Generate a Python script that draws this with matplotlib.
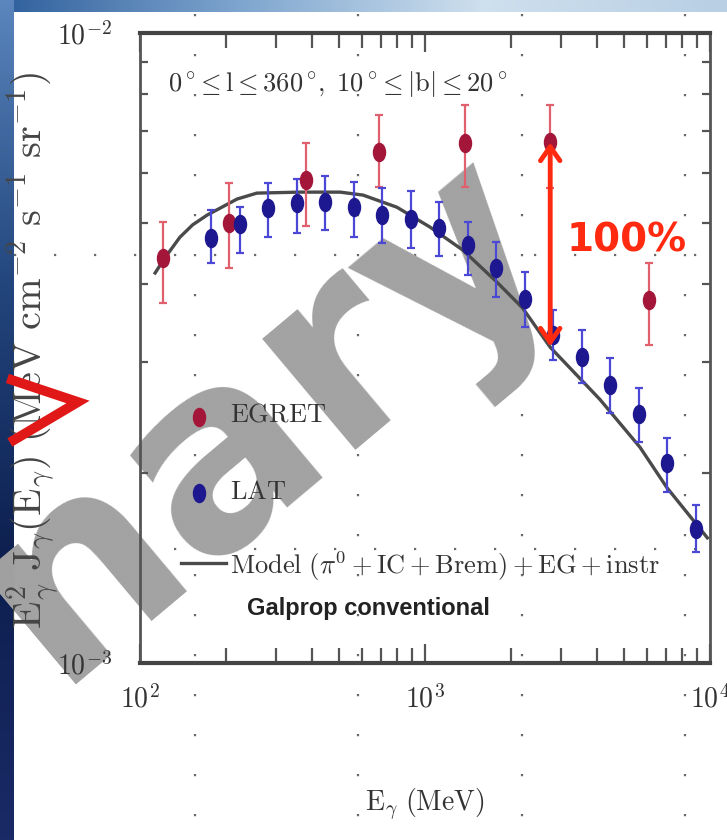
import numpy as np
import matplotlib.pyplot as plt
from matplotlib.path import Path
from matplotlib.lines import Line2D
from matplotlib.colors import LinearSegmentedColormap
from matplotlib.ticker import NullFormatter, FuncFormatter

plt.rcParams['mathtext.fontset'] = 'cm'

# EGRET points (E in MeV, E^2 J in MeV cm^-2 s^-1 sr^-1)
egret_e = [120, 205, 383, 690, 1380, 2740, 6100]
egret_f = [4.39e-3, 4.99e-3, 5.84e-3, 6.47e-3, 6.69e-3, 6.71e-3, 3.77e-3]
egret_hi = [5.01e-3, 5.78e-3, 6.69e-3, 7.41e-3, 7.69e-3, 7.69e-3, 4.31e-3]
egret_lo = [3.73e-3, 4.24e-3, 4.94e-3, 5.70e-3, 5.70e-3, 5.68e-3, 3.20e-3]

# LAT points
lat_e = [178, 224, 282, 355, 447, 562, 708, 891, 1122, 1413, 1778, 2239,
         2818, 3548, 4467, 5623, 7079, 8913]
lat_f = [4.73e-3, 4.98e-3, 5.27e-3, 5.37e-3, 5.39e-3, 5.29e-3, 5.14e-3, 5.07e-3,
         4.90e-3, 4.61e-3, 4.24e-3, 3.78e-3, 3.32e-3, 3.06e-3, 2.76e-3, 2.48e-3,
         2.08e-3, 1.63e-3]
lat_hi = [5.24e-3, 5.29e-3, 5.78e-3, 5.86e-3, 5.93e-3, 5.80e-3, 5.68e-3, 5.61e-3,
          5.39e-3, 5.01e-3, 4.66e-3, 4.17e-3, 3.63e-3, 3.38e-3, 3.05e-3, 2.73e-3,
          2.28e-3, 1.78e-3]
lat_lo = [4.31e-3, 4.47e-3, 4.74e-3, 4.81e-3, 4.87e-3, 4.74e-3, 4.64e-3, 4.56e-3,
          4.43e-3, 4.13e-3, 3.81e-3, 3.41e-3, 3.03e-3, 2.78e-3, 2.49e-3, 2.24e-3,
          1.87e-3, 1.50e-3]

# Galprop conventional model
model_e = [113, 122, 138, 153, 172, 219, 257, 364, 504, 606, 797, 1041, 1360, 1791,
           2200, 2752, 4110, 5680, 7050, 9790]
model_f = [4.16e-3, 4.39e-3, 4.74e-3, 4.96e-3, 5.14e-3, 5.45e-3, 5.57e-3, 5.59e-3,
           5.59e-3, 5.53e-3, 5.29e-3, 4.92e-3, 4.52e-3, 4.02e-3, 3.66e-3, 3.17e-3,
           2.62e-3, 2.20e-3, 1.90e-3, 1.58e-3]

# arrow showing the 100% difference
arrow_e = 2750
arrow_top, arrow_bottom = 6.7e-3, 3.18e-3

W, H = 727, 840
fig = plt.figure(figsize=(W / 100, H / 100), dpi=100)
fig.patch.set_facecolor('white')


def fx(px):
    return px / W


def fy(py):
    return 1 - py / H


# slide background: blue strips, dotted grid, watermark
bg = fig.add_axes([0, 0, 1, 1], zorder=-10)
top_cmap = LinearSegmentedColormap.from_list('top', ['#2f5f9c', '#7fa6cf', '#cfe0ee', '#b8cfe4'])
left_cmap = LinearSegmentedColormap.from_list('left', ['#5a86bd', '#23467e', '#0d1f4f', '#1a2a66'])
bg.imshow(np.linspace(0, 1, 256).reshape(1, -1), extent=(0, W, 12, 0), cmap=top_cmap, aspect='auto')
bg.imshow(np.linspace(0, 1, 256).reshape(-1, 1), extent=(0, 14, H, 0), cmap=left_cmap, aspect='auto')
for gx in [195, 358, 522, 685]:
    bg.plot([gx, gx], [14, H], color='#444444', lw=1.6, ls=(0, (1, 17)), alpha=0.8)
for gy in [255, 549]:
    bg.plot([14, W], [gy, gy], color='#444444', lw=1.6, ls=(0, (1, 17)), alpha=0.8)
bg.text(265, 415, 'nary', fontsize=190, rotation=40, color='#a2a2a2',
        family=['Liberation Sans Narrow', 'DejaVu Sans'], weight='bold',
        ha='center', va='center')
bg.set_xlim(0, W)
bg.set_ylim(H, 0)
bg.axis('off')

ax = fig.add_axes([fx(140), fy(663), fx(710) - fx(140), fy(33) - fy(663)])
ax.set_facecolor('none')
ax.set_xscale('log')
ax.set_yscale('log')

circle = Path.unit_circle()
ellipse = Path(circle.vertices * np.array([1.0, 1.5]), circle.codes)

ax.plot(model_e, model_f, color='#4a4a4a', lw=2.4, zorder=2)

eb = ax.errorbar(egret_e, egret_f,
                 yerr=[np.subtract(egret_f, egret_lo), np.subtract(egret_hi, egret_f)],
                 fmt='none', ecolor='#e0606e', elinewidth=1.6, capsize=3, capthick=1.6, zorder=3)
for c in eb[1]:
    c.set_color('#808080')
ax.plot(egret_e, egret_f, ls='none', marker=ellipse, ms=13, color='#a3163a', zorder=4)

lb = ax.errorbar(lat_e, lat_f,
                 yerr=[np.subtract(lat_f, lat_lo), np.subtract(lat_hi, lat_f)],
                 fmt='none', ecolor='#4b48d6', elinewidth=1.6, capsize=3, capthick=1.6, zorder=3)
for c in lb[1]:
    c.set_color('#707070')
ax.plot(lat_e, lat_f, ls='none', marker=ellipse, ms=13, color='#1d1790', zorder=4)

ax.set_xlim(100, 1e4)
ax.set_ylim(1e-3, 1e-2)

pow_fmt = FuncFormatter(lambda v, p: r'$10^{%d}$' % round(np.log10(v)))
ax.xaxis.set_major_formatter(pow_fmt)
ax.yaxis.set_major_formatter(pow_fmt)
ax.xaxis.set_minor_formatter(NullFormatter())
ax.yaxis.set_minor_formatter(NullFormatter())
ax.tick_params(which='both', direction='in', top=True, right=True, colors='#555555')
ax.tick_params(axis='x', which='minor', length=11, width=1.6)
ax.tick_params(axis='y', which='minor', length=6, width=1.6)
ax.tick_params(axis='x', which='major', length=14, width=1.6, pad=16, labelsize=20,
               labelcolor='#333333')
ax.tick_params(axis='y', which='major', length=8, width=1.6, pad=20, labelsize=20,
               labelcolor='#333333')
for side in ['top', 'bottom']:
    ax.spines[side].set_linewidth(3)
    ax.spines[side].set_color('#444444')
for side in ['left', 'right']:
    ax.spines[side].set_linewidth(2)
    ax.spines[side].set_color('#555555')

ax.set_xlabel(r'$\mathrm{E}_\gamma\ \mathrm{(MeV)}$', fontsize=20, color='#333333', labelpad=52)
fig.text(fx(33), fy(350),
         r'$\mathrm{E}_\gamma^2\ \mathrm{J}_\gamma(\mathrm{E}_\gamma)\ \mathrm{(MeV\ cm^{-2}\ s^{-1}\ sr^{-1})}$',
         rotation=90, fontsize=29, color='#454545', ha='center', va='center')

ax.text(fx(168), fy(84), r'$0^\circ\!\leq \mathrm{l} \leq 360^\circ\!,\ 10^\circ\!\leq |\mathrm{b}| \leq 20^\circ$',
        transform=fig.transFigure, fontsize=19, color='#333333', ha='left', va='center')

# legend
fig.add_artist(Line2D([fx(199)], [fy(417)], ls='none', marker=ellipse, ms=13, color='#a3163a'))
fig.add_artist(Line2D([fx(199)], [fy(493)], ls='none', marker=ellipse, ms=13, color='#1d1790'))
fig.add_artist(Line2D([fx(181), fx(226)], [fy(563), fy(563)], color='#4a4a4a', lw=2.4))
fig.text(fx(230), fy(415), r'$\mathrm{EGRET}$', fontsize=19, color='#333333', va='center')
fig.text(fx(230), fy(492), r'$\mathrm{LAT}$', fontsize=19, color='#333333', va='center')
fig.text(fx(230), fy(566), r'$\mathrm{Model}\ (\pi^0 + \mathrm{IC} + \mathrm{Brem}) + \mathrm{EG} + \mathrm{instr}$',
         fontsize=19, color='#333333', va='center')
fig.text(fx(247), fy(609), 'Galprop conventional', fontsize=17, weight='bold',
         family='Liberation Sans', color='#222222', va='center')

ax.annotate('', xy=(arrow_e, arrow_top), xytext=(arrow_e, arrow_bottom),
            arrowprops=dict(arrowstyle='<->,head_length=1.0,head_width=0.7',
                            color='#ff2a10', lw=3.5, shrinkA=0, shrinkB=0), zorder=6)
fig.text(fx(627), fy(240), '100%', fontsize=28, weight='bold', color='#ff2a10',
         ha='center', va='center', family='DejaVu Sans')

# red mark over the axis label
fig.add_artist(Line2D([fx(12), fx(78), fx(14)], [fy(380), fy(402), fy(440)],
                      color='#e01818', lw=7, solid_joinstyle='miter', zorder=5))

fig.savefig('out.png', dpi=100)
